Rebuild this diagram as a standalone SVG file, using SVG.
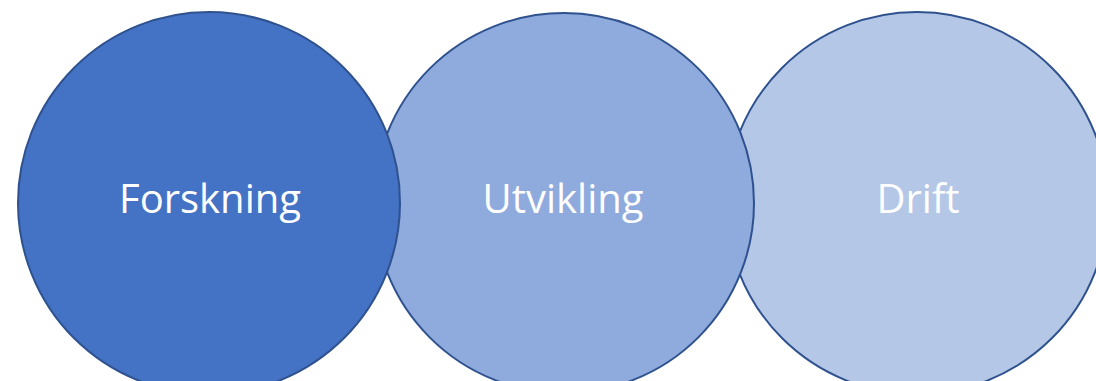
<svg xmlns="http://www.w3.org/2000/svg" width="1096" height="381" viewBox="0 0 1096 381">
<style>
.c{stroke:#2F528F;stroke-width:2}
.t{font-family:"Open Sans","Liberation Sans",sans-serif;font-size:40px;fill:#FFFFFF;text-anchor:middle}
</style>
<rect width="1096" height="381" fill="#FFFFFF"/>
<g id="drift">
<circle class="c" cx="917" cy="203" r="191" fill="#B4C7E7"/>
<text class="t" x="918" y="213">Drift</text>
</g>
<g id="utvikling">
<circle class="c" cx="564" cy="203" r="190" fill="#8FAADC"/>
<text class="t" x="563" y="213">Utvikling</text>
</g>
<g id="forskning">
<circle class="c" cx="209" cy="203" r="191" fill="#4472C4"/>
<text class="t" x="210" y="213">Forskning</text>
</g>
<g id="connectors"></g>
</svg>
